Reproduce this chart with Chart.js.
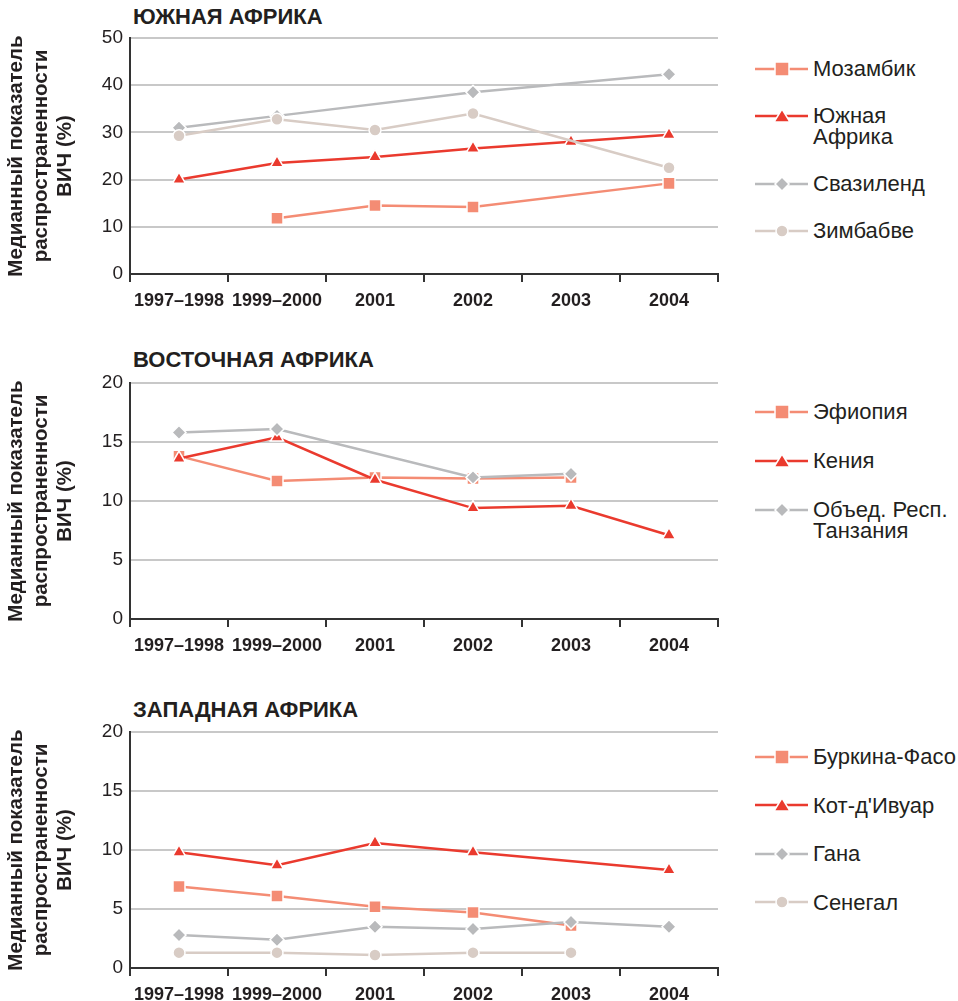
<!DOCTYPE html>
<html>
<head>
<meta charset="utf-8">
<script src="https://cdn.jsdelivr.net/npm/chart.js@4.4.0/dist/chart.umd.min.js"></script>
<style>
  body { margin: 0; background: #fff; font-family: "Liberation Sans", Arial, sans-serif; }
  .panel { position: absolute; left: 0; width: 958px; height: 330px; }
  .panel canvas { position: absolute; left: 0; top: 0; }
  .ptitle { position: absolute; left: 133px; font-weight: bold; font-size: 22px; line-height: 24px; color: #231f20; }
  .legend { position: absolute; left: 755px; display: flex; flex-direction: column; }
  .item { display: flex; align-items: flex-start; }
  .item svg { flex: none; margin-right: 5px; margin-top: 0.5px; }
  .item span { font-size: 22px; line-height: 21px; color: #231f20; white-space: nowrap; }
</style>
</head>
<body>
<div class="panel" id="p1" style="top:0"><div class="ptitle" style="top:5px">ЮЖНАЯ АФРИКА</div><canvas id="c1"></canvas><div class="legend" id="l1" style="top:58px;gap:26px"></div></div>
<div class="panel" id="p2" style="top:345px"><div class="ptitle" style="top:3px">ВОСТОЧНАЯ АФРИКА</div><canvas id="c2"></canvas><div class="legend" id="l2" style="top:56px;gap:28px"></div></div>
<div class="panel" id="p3" style="top:694px"><div class="ptitle" style="top:4px">ЗАПАДНАЯ АФРИКА</div><canvas id="c3"></canvas><div class="legend" id="l3" style="top:52px;gap:27.5px"></div></div>
<script>
// x categories shared by all three panels
const categories = ['1997–1998', '1999–2000', '2001', '2002', '2003', '2004'];

// Южная Африка (0-50)
const mozambique = [null, 11.8, 14.5, 14.2, null, 19.2];
const southAfrica = [20.0, 23.5, 24.8, 26.6, 28.0, 29.5];
const swaziland = [31.0, 33.5, null, 38.5, null, 42.3];
const zimbabwe = [29.3, 32.8, 30.5, 34.0, null, 22.5];

// Восточная Африка (0-20)
const ethiopia = [13.8, 11.7, 12.0, 11.9, 12.0, null];
const kenya = [13.6, 15.4, 11.8, 9.4, 9.6, 7.1];
const tanzania = [15.8, 16.1, null, 12.0, 12.3, null];

// Западная Африка (0-20)
const burkina = [6.9, 6.1, 5.2, 4.7, 3.6, null];
const coteDivoire = [9.8, 8.7, 10.6, 9.8, null, 8.3];
const ghana = [2.8, 2.4, 3.5, 3.3, 3.9, 3.5];
const senegal = [1.3, 1.3, 1.1, 1.3, 1.3, null];

const SALMON = '#f48c74', RED = '#ea3a2e', GREY = '#b9babc', BEIGE = '#d8ccc5';

// order: later series sit on top (square at the bottom, circle on top)
const styles = {
  square: { color: SALMON, pointStyle: 'rect', radius: 8.5, order: 4 },
  triangle: { color: RED, pointStyle: 'triangle', radius: 7.5, order: 3 },
  diamond: { color: GREY, pointStyle: 'rectRot', radius: 7, order: 2 },
  circle: { color: BEIGE, pointStyle: 'circle', radius: 6, order: 1 }
};

function ds(label, data, kind) {
  const s = styles[kind];
  return {
    label: label, data: data, kind: kind, order: s.order,
    borderColor: s.color, backgroundColor: s.color,
    pointBackgroundColor: s.color, pointBorderColor: '#fff', pointBorderWidth: 1.5,
    pointStyle: s.pointStyle, pointRadius: s.radius, pointHoverRadius: s.radius,
    borderWidth: 2.5, spanGaps: true, tension: 0
  };
}

function legendSvg(kind) {
  const s = styles[kind];
  let m = '';
  if (kind === 'square') m = '<rect x="20" y="3" width="14" height="14" fill="' + s.color + '" stroke="#fff" stroke-width="1.5"/>';
  if (kind === 'triangle') m = '<polygon points="27,3 35,16 19,16" fill="' + s.color + '" stroke="#fff" stroke-width="1.5"/>';
  if (kind === 'diamond') m = '<polygon points="27,3 34,10 27,17 20,10" fill="' + s.color + '" stroke="#fff" stroke-width="1.5"/>';
  if (kind === 'circle') m = '<circle cx="27" cy="10" r="6" fill="' + s.color + '" stroke="#fff" stroke-width="1.5"/>';
  return '<svg width="53" height="20"><line x1="0" y1="10" x2="53" y2="10" stroke="' + s.color + '" stroke-width="2.5"/>' + m + '</svg>';
}

function makePanel(id, legendId, datasets, yMax, step) {
  document.getElementById(legendId).innerHTML = datasets.map(d =>
    '<div class="item">' + legendSvg(d.kind) + '<span>' + d.label.replace('\n', '<br>') + '</span></div>'
  ).join('');

  new Chart(document.getElementById(id), {
    type: 'line',
    data: { labels: categories, datasets: datasets },
    options: {
      responsive: false,
      animation: false,
      devicePixelRatio: 1,
      layout: { padding: { top: 38, right: 22, left: 0, bottom: 0 } },
      plugins: { legend: { display: false }, tooltip: { enabled: false } },
      scales: {
        x: {
          offset: true,
          grid: { offset: true, drawOnChartArea: false, color: '#333', lineWidth: 2, tickLength: 8 },
          border: { color: '#333', width: 2 },
          ticks: { color: '#231f20', font: { family: 'Liberation Sans', size: 18, weight: 'bold' }, padding: 8, maxRotation: 0, autoSkip: false },
          afterFit: s => { s.height = 46; }
        },
        y: {
          min: 0, max: yMax,
          ticks: { stepSize: step, color: '#231f20', font: { family: 'Liberation Sans', size: 19 }, padding: 7 },
          grid: { color: '#c8c8c8', lineWidth: 2, drawTicks: false },
          border: { color: '#333', width: 2 },
          title: {
            display: true,
            text: ['Медианный показатель', 'распространенности', 'ВИЧ (%)'],
            color: '#231f20',
            font: { family: 'Liberation Sans', size: 20.5, weight: 'bold', lineHeight: 1.2 },
            padding: { top: 4, bottom: 0 }
          },
          afterFit: s => { s.width = 130; }
        }
      }
    }
  });
}

['c1', 'c2', 'c3'].forEach(id => { const c = document.getElementById(id); c.width = 740; c.height = 320; });

makePanel('c1', 'l1', [
  ds('Мозамбик', mozambique, 'square'),
  ds('Южная\nАфрика', southAfrica, 'triangle'),
  ds('Свазиленд', swaziland, 'diamond'),
  ds('Зимбабве', zimbabwe, 'circle')
], 50, 10);

makePanel('c2', 'l2', [
  ds('Эфиопия', ethiopia, 'square'),
  ds('Кения', kenya, 'triangle'),
  ds('Объед. Респ.\nТанзания', tanzania, 'diamond')
], 20, 5);

makePanel('c3', 'l3', [
  ds('Буркина-Фасо', burkina, 'square'),
  ds("Кот-д'Ивуар", coteDivoire, 'triangle'),
  ds('Гана', ghana, 'diamond'),
  ds('Сенегал', senegal, 'circle')
], 20, 5);
</script>
</body>
</html>
